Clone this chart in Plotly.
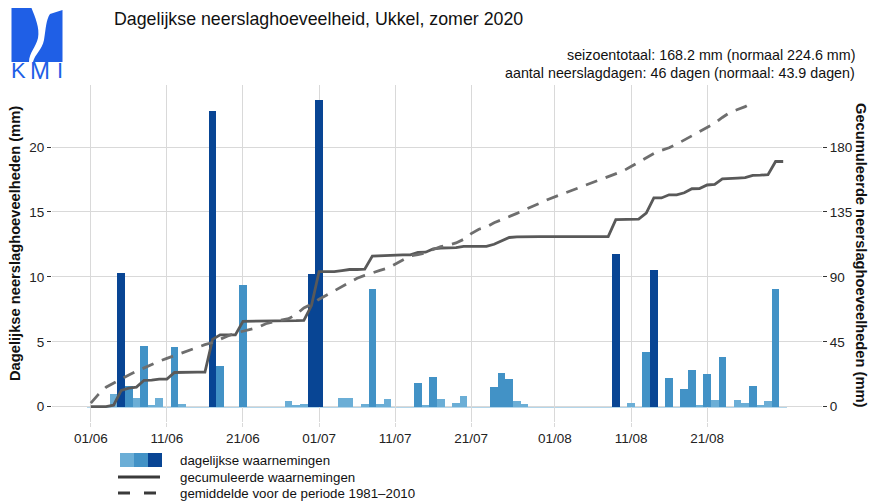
import numpy as np
import pandas as pd
import plotly.graph_objects as go

# ---------------- data ----------------
june_mm = [0, 0, 0, 1.0, 10.3, 1.6, 0.7, 4.7, 0.1, 0.7,
           0, 4.6, 0.2, 0, 0, 0, 22.8, 3.1, 0, 0,
           9.4, 0, 0, 0, 0, 0, 0.4, 0.1, 0.2, 10.2]
july_mm = [23.6, 0, 0, 0.7, 0.7, 0, 0.2, 9.1, 0.2, 0.6,
           0, 0, 0, 1.8, 0.1, 2.3, 0.6, 0, 0.3, 0.8,
           0, 0, 0, 1.5, 2.6, 2.1, 0.4, 0.2, 0, 0, 0]
aug_mm = [0, 0, 0, 0, 0, 0, 0, 0, 11.8, 0,
          0.3, 0, 4.2, 10.5, 0, 2.2, 0, 1.4, 2.8, 0.1,
          2.5, 0.5, 3.8, 0, 0.5, 0.3, 1.6, 0.1, 0.4, 9.1, 0]
# normal cumulative (1981-2010), visible part 01/06 .. 27/08
normal_cum_mm = [2.5, 8.5, 13.5, 16.5, 19, 22, 24.5, 27, 29.5, 31.5,
                 33.5, 35.5, 37.5, 39.5, 41.5, 43, 44.5, 47, 49, 51,
                 52.5, 53.5, 55, 57.5, 59, 60, 61, 64, 68.5, 71,
                 74.5, 77.5, 80.5, 83, 86, 89, 91, 93, 94.5, 96,
                 99, 102, 104.5, 105.5, 106.5, 109, 111, 112, 113.5, 116,
                 120, 123, 124.5, 127.5, 129.5, 131.5, 134, 136.5, 138.5, 141,
                 143.5, 145.5, 147.5, 149, 151, 153, 155, 157, 159.5, 161.5,
                 163.5, 166.5, 169.5, 173, 175.5, 177.7, 179.5, 182, 185, 188,
                 191, 194, 196.5, 200.5, 204, 206, 208, 211]
tick_dates = ["2020-06-01", "2020-06-11", "2020-06-21", "2020-07-01", "2020-07-11",
              "2020-07-21", "2020-08-01", "2020-08-11", "2020-08-21"]
tick_labels = ["01/06", "11/06", "21/06", "01/07", "11/07", "21/07", "01/08", "11/08", "21/08"]
left_ticks = [0, 5, 10, 15, 20]
right_ticks = [0, 45, 90, 135, 180]

# ---------------- styling ----------------
LIGHT = "#6baed6"
MED = "#4292c6"
DARK = "#084594"
GRID = "#d9d9d9"
FONT = "Liberation Sans, Arial, sans-serif"
LOGO = "#1f5fe6"

daily = june_mm + july_mm + aug_mm
dates = pd.date_range("2020-06-01", periods=len(daily), freq="D")
cum = np.cumsum(daily)
normal_dates = dates[:len(normal_cum_mm)]
colors = [LIGHT if v <= 1.0 else (MED if v < 10 else DARK) for v in daily]

W_FIG, H_FIG = 871, 504
L, R, T, B = 52, 49, 85, 82
PW = W_FIG - L - R
PH = H_FIG - T - B


def fx(px):
    return (px - L) / PW


def fy(py):
    return (T + PH - py) / PH


ymax = max(daily)
pad = 0.05 * ymax
yrange = [-pad, ymax + pad]
ratio = 9

fig = go.Figure()
fig.add_trace(go.Bar(x=dates, y=daily, marker=dict(color=colors, line=dict(width=0)),
                     width=86400000, yaxis="y", hoverinfo="x+y"))
fig.add_trace(go.Scatter(x=dates, y=cum, yaxis="y2", mode="lines",
                         line=dict(color="#595959", width=2.8)))
fig.add_trace(go.Scatter(x=normal_dates, y=normal_cum_mm, yaxis="y2", mode="lines",
                         line=dict(color="#6e6e6e", width=2.8, dash="12px,9px")))

shapes = []
# light blue baseline of the daily bars
shapes.append(dict(type="line", xref="x", yref="y",
                   x0=dates[0] - pd.Timedelta(hours=12), x1=dates[-1] + pd.Timedelta(hours=12),
                   y0=0, y1=0, line=dict(color=LIGHT, width=1.5), layer="below"))

# legend swatches
for i, c in enumerate([LIGHT, MED, DARK]):
    shapes.append(dict(type="rect", xref="paper", yref="paper",
                       x0=fx(120 + 14 * i), x1=fx(134 + 14 * i), y0=fy(467), y1=fy(453),
                       fillcolor=c, line=dict(width=0)))
shapes.append(dict(type="line", xref="paper", yref="paper", x0=fx(118), x1=fx(160),
                   y0=fy(477), y1=fy(477), line=dict(color="#3a3a3a", width=3)))
shapes.append(dict(type="line", xref="paper", yref="paper", x0=fx(118), x1=fx(158),
                   y0=fy(493), y1=fy(493), line=dict(color="#3a3a3a", width=3, dash="12px,14px")))


def path(pts):
    out = []
    for cmd, coords in pts:
        s = cmd
        for (a, b) in coords:
            s += f" {fx(a):.5f},{fy(b):.5f}"
        out.append(s)
    return " ".join(out) + " Z"


left_piece = path([("M", [(11.5, 8)]), ("L", [(31.5, 8)]),
                   ("C", [(35, 17), (40, 28), (38, 38)]),
                   ("C", [(36, 47), (29, 53), (29, 62)]),
                   ("L", [(11.5, 62)])])
right_piece = path([("M", [(50, 14)]), ("L", [(62.5, 10)]), ("L", [(62.5, 62)]),
                    ("L", [(33, 62)]),
                    ("C", [(35, 54), (42, 50), (44, 40)]),
                    ("C", [(46, 28), (46, 20), (50, 14)])])
for p in (left_piece, right_piece):
    shapes.append(dict(type="path", xref="paper", yref="paper", path=p,
                       fillcolor=LOGO, line=dict(width=0)))

ann = []
for ch, cx, sz in (("K", 18.5, 22), ("M", 39.5, 24), ("I", 60, 22)):
    ann.append(dict(text=ch, x=fx(cx), y=fy(70.5), xref="paper", yref="paper",
                    showarrow=False, xanchor="center", yanchor="middle",
                    font=dict(family=FONT, size=sz, color=LOGO)))
ann.append(dict(text="Dagelijkse neerslaghoeveelheid, Ukkel, zomer 2020", x=fx(112), y=fy(19),
                xref="paper", yref="paper", showarrow=False, xanchor="left", yanchor="middle",
                font=dict(family=FONT, size=17.8, color="#111")))
ann.append(dict(text="seizoentotaal: 168.2 mm (normaal 224.6 mm)", x=fx(857), y=fy(55),
                xref="paper", yref="paper", showarrow=False, xanchor="right", yanchor="middle",
                font=dict(family=FONT, size=14.3, color="#111")))
ann.append(dict(text="aantal neerslagdagen: 46 dagen (normaal: 43.9 dagen)", x=fx(857), y=fy(73),
                xref="paper", yref="paper", showarrow=False, xanchor="right", yanchor="middle",
                font=dict(family=FONT, size=14.3, color="#111")))
ann.append(dict(text="<b>Dagelijkse neerslaghoeveelheden (mm)</b>", x=fx(15), y=fy(244),
                xref="paper", yref="paper", showarrow=False, xanchor="center", yanchor="middle",
                textangle=-90, font=dict(family=FONT, size=14.7, color="#111")))
ann.append(dict(text="<b>Gecumuleerde neerslaghoeveelheden (mm)</b>", x=fx(861), y=fy(255),
                xref="paper", yref="paper", showarrow=False, xanchor="center", yanchor="middle",
                textangle=90, font=dict(family=FONT, size=14.7, color="#111")))
for txt, py in (("dagelijkse waarnemingen", 461), ("gecumuleerde waarnemingen", 477),
                ("gemiddelde voor de periode 1981\u20132010", 493)):
    ann.append(dict(text=txt, x=fx(178), y=fy(py), xref="paper", yref="paper", showarrow=False,
                    xanchor="left", yanchor="middle", font=dict(family=FONT, size=13.3, color="#111")))

x0 = dates[0] - pd.Timedelta(days=0.5)
x1 = dates[-1] + pd.Timedelta(days=0.5)
span = x1 - x0
xrange = [x0 - 0.05 * span, x1 + 0.05 * span]

fig.update_layout(
    width=W_FIG, height=H_FIG,
    margin=dict(l=L, r=R, t=T, b=B, autoexpand=False),
    paper_bgcolor="white", plot_bgcolor="white",
    showlegend=False, bargap=0,
    font=dict(family=FONT, size=13, color="#222"),
    xaxis=dict(type="date", range=xrange, tickvals=tick_dates, ticktext=tick_labels,
               showgrid=True, gridcolor=GRID, gridwidth=1, zeroline=False, showline=False,
               ticks="outside", ticklen=4, tickcolor=GRID,
               tickfont=dict(family=FONT, size=13.5, color="#222")),
    yaxis=dict(range=yrange, tickvals=left_ticks, showgrid=True, gridcolor=GRID, gridwidth=1,
               zeroline=False, showline=False, ticks="outside", ticklen=4, tickcolor="#333",
               tickfont=dict(family=FONT, size=13.5, color="#222")),
    yaxis2=dict(range=[yrange[0] * ratio, yrange[1] * ratio], tickvals=right_ticks,
                overlaying="y", side="right", showgrid=False, zeroline=False, showline=False,
                ticks="outside", ticklen=4, tickcolor="#333",
                tickfont=dict(family=FONT, size=13.5, color="#222")),
    shapes=shapes, annotations=ann,
)

fig.write_html("out.html", config={"displayModeBar": False},
               post_script="document.body.style.margin='0';document.body.style.overflow='hidden';")
